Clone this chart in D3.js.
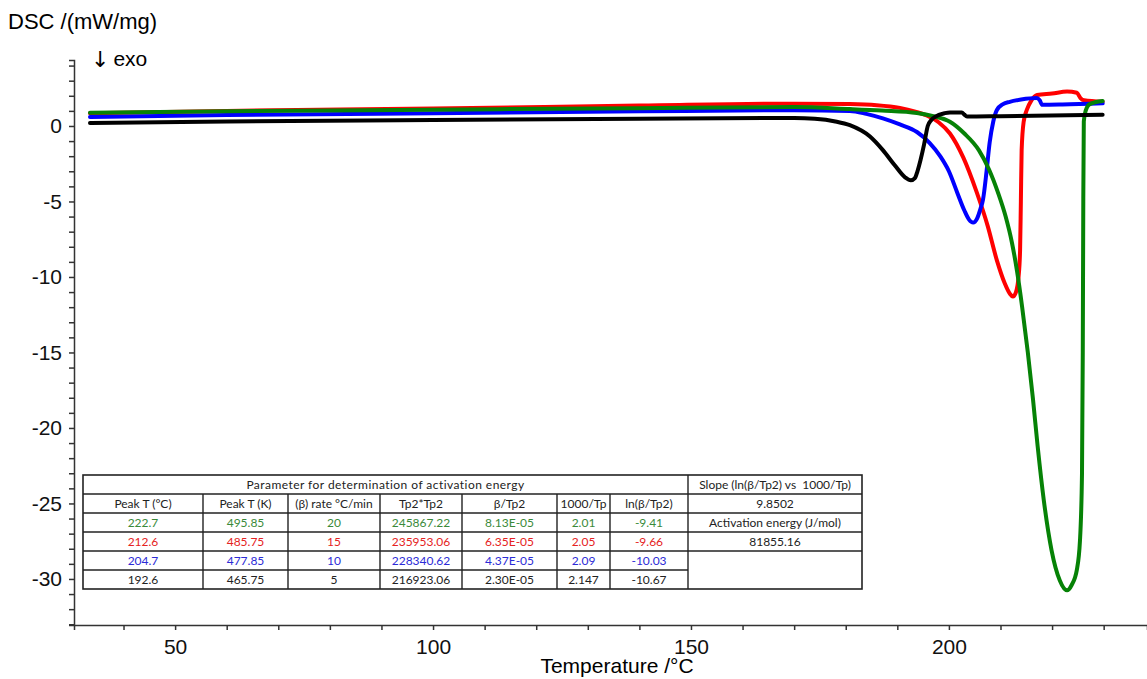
<!DOCTYPE html>
<html>
<head>
<meta charset="utf-8">
<script src="https://cdn.jsdelivr.net/npm/d3@7"></script>
<style>
  body { margin: 0; background: #fff; }
  svg { display: block; font-family: "Liberation Sans", Arial, sans-serif; }
  .axis path, .axis line { stroke: #333; stroke-width: 1.5; }
  .axis text { fill: #111; font-size: 21px; }
  .tbl text { font-family: Lato, "Open Sans", sans-serif; font-size: 12px; white-space: pre; }
</style>
</head>
<body>
<svg id="chart"></svg>
<script>
// DSC curves, [temperature °C, heat flow mW/mg]
const green = [[33.5,0.88],[60,0.98],[100,1.08],[140,1.18],[170,1.25],[180.8,1.12],[187,1.02],[193.8,0.86],
  [197,0.65],[200.2,0.28],[203,-0.5],[205.8,-1.6],[207.8,-2.9],[209.5,-4.4],[211,-6],[212.2,-7.7],[213.2,-9.6],
  [214.2,-12],[215.3,-15],[216.3,-18.1],[217.2,-21.2],[218.4,-24.8],[219.9,-28.1],[221.5,-30.1],
  [222.9,-30.75],[223.8,-30.4],[224.8,-29.4],[225.4,-27.5],[225.8,-23],[225.95,-15],[226.05,-5],
  [226.15,0.3],[226.5,1.0],[227.3,1.45],[229.8,1.65]];
const red = [[33.5,0.85],[60,1.0],[100,1.15],[140,1.35],[170,1.48],[180.8,1.45],[186,1.38],[190.5,1.2],
  [193.5,0.95],[195.7,0.7],[198,0.25],[200.2,-0.5],[202.8,-2.1],[205.4,-4.4],[207.5,-6.6],[209.3,-8.9],
  [210.8,-10.4],[211.8,-11.1],[212.4,-11.3],[213,-11],[213.5,-10],[213.8,-8.2],[213.95,-5],[214.1,-1.6],
  [214.5,0.3],[215.1,1.06],[216,1.7],[217.1,2.05],[220,2.15],[222.9,2.28],[224.8,2.2],[225.5,1.85],[226.2,1.7],
  [229.8,1.6]];
const blue = [[33.5,0.6],[60,0.72],[100,0.85],[140,0.97],[170,1.05],[180.8,1.0],[184,0.8],[187.2,0.5],
  [190.5,0.1],[193.8,-0.4],[196.2,-1.1],[198.3,-2],[200,-3],[201.6,-4.4],[203,-5.6],[203.9,-6.2],[204.7,-6.4],
  [205.5,-6.1],[206.1,-5.5],[206.6,-4.9],[207.3,-3],[207.9,-1.1],[208.6,0.3],[209.3,1.06],[210.5,1.45],
  [211.8,1.6],[214,1.75],[217,1.85],[217.6,1.7],[218.1,1.4],[222,1.42],[229.8,1.5]];
const black = [[33.5,0.2],[60,0.3],[100,0.4],[140,0.48],[170,0.53],[174,0.48],[178,0.3],[180.8,0.05],
  [184.7,-0.7],[187.2,-1.6],[189.5,-2.6],[191.5,-3.4],[192.6,-3.6],[193.4,-3.45],[193.9,-3.0],[194.5,-2.25],
  [195.2,-1.2],[195.9,0],[196.6,0.4],[197.3,0.6],[199.2,0.85],[200.2,0.9],[202.5,0.9],[203,0.75],[203.5,0.62],
  [210,0.65],[229.8,0.75]];

const series = [
  {name: "15 K/min", values: red, color: "#ff0000"},
  {name: "10 K/min", values: blue, color: "#0000ff"},
  {name: "20 K/min", values: green, color: "#068206"},
  {name: "5 K/min", values: black, color: "#000000"},
];

const xTicks = [50, 100, 150, 200];
const yTicks = [0, -5, -10, -15, -20, -25, -30];

// table text
const tableTitle = "Parameter for determination of activation energy";
const tableHeader = ["Peak T (°C)", "Peak T (K)", "(β) rate °C/min", "Tp2*Tp2", "β/Tp2", "1000/Tp", "ln(β/Tp2)"];
const tableRows = [
  ["222.7", "495.85", "20", "245867.22", "8.13E-05", "2.01", "-9.41"],
  ["212.6", "485.75", "15", "235953.06", "6.35E-05", "2.05", "-9.66"],
  ["204.7", "477.85", "10", "228340.62", "4.37E-05", "2.09", "-10.03"],
  ["192.6", "465.75", "5", "216923.06", "2.30E-05", "2.147", "-10.67"],
];
const rowColors = ["#3a8a3a", "#e52222", "#2b2bd6", "#222"];
const sideCells = ["Slope (ln(β/Tp2) vs  1000/Tp)", "9.8502", "Activation energy (J/mol)", "81855.16"];

const width = 1147, height = 679;
const margin = {top: 60, right: 0, bottom: 54, left: 74};

const svg = d3.select("#chart").attr("width", width).attr("height", height);

const x = d3.scaleLinear().domain([30.4, 238.4]).range([margin.left, width - margin.right]);
const y = d3.scaleLinear().domain([-33.05, 4.37]).range([height - margin.bottom, margin.top]);

// axes: minor ticks every 10 °C / 1 mW/mg, labels on the majors
svg.append("g")
  .classed("axis", true)
  .attr("transform", `translate(0,${height - margin.bottom})`)
  .call(d3.axisBottom(x)
    .tickValues(d3.range(40, 231, 10))
    .tickSizeOuter(0).tickSize(5).tickPadding(9)
    .tickFormat(d => xTicks.includes(d) ? String(d) : ""));

svg.append("g")
  .classed("axis", true)
  .attr("transform", `translate(${margin.left},0)`)
  .call(d3.axisLeft(y)
    .tickValues(d3.range(-33, 5, 1))
    .tickSizeOuter(0).tickSize(5).tickPadding(7)
    .tickFormat(d => yTicks.includes(d) ? String(d) : ""));

svg.append("text")
  .attr("x", 8).attr("y", 29)
  .attr("font-size", 22)
  .text("DSC /(mW/mg)");

const exo = svg.append("text")
  .attr("x", 91).attr("y", 66)
  .attr("font-size", 21);
exo.append("tspan")
  .attr("font-family", "DejaVu Sans")
  .attr("font-size", 22)
  .attr("dy", 1)
  .text("↓");
exo.append("tspan").attr("dx", 4).attr("dy", -1).text("exo");

svg.append("text")
  .attr("x", 617).attr("y", 673)
  .attr("text-anchor", "middle")
  .attr("font-size", 21)
  .text("Temperature /°C");

// curves
const line = d3.line()
  .x(d => x(d[0]))
  .y(d => y(d[1]))
  .curve(d3.curveMonotoneX);

svg.append("g").selectAll("path")
  .data(series)
  .join("path")
  .attr("fill", "none")
  .attr("stroke", d => d.color)
  .attr("stroke-width", 4)
  .attr("stroke-linejoin", "round")
  .attr("stroke-linecap", "round")
  .attr("d", d => line(d.values));

// parameter table
const colEdges = [83, 203, 288, 380, 462, 557, 610, 688, 862];
const rowEdges = [475, 494, 513, 532, 551, 570, 589];
const rule = "#222";

const tbl = svg.append("g").classed("tbl", true);

tbl.append("rect")
  .attr("x", colEdges[0]).attr("y", rowEdges[0])
  .attr("width", colEdges[8] - colEdges[0]).attr("height", rowEdges[6] - rowEdges[0])
  .attr("fill", "#fff").attr("stroke", rule).attr("stroke-width", 1.6);

// horizontal rules
tbl.selectAll("line.h")
  .data(rowEdges.slice(1, 5))
  .join("line").classed("h", true)
  .attr("x1", colEdges[0]).attr("x2", colEdges[8])
  .attr("y1", d => d).attr("y2", d => d)
  .attr("stroke", rule).attr("stroke-width", 1.4);
tbl.append("line")
  .attr("x1", colEdges[0]).attr("x2", colEdges[7])
  .attr("y1", rowEdges[5]).attr("y2", rowEdges[5])
  .attr("stroke", rule).attr("stroke-width", 1.4);

// vertical rules (below the title row, except the side column divider)
tbl.selectAll("line.v")
  .data(colEdges.slice(1, 7))
  .join("line").classed("v", true)
  .attr("x1", d => d).attr("x2", d => d)
  .attr("y1", rowEdges[1]).attr("y2", rowEdges[6])
  .attr("stroke", rule).attr("stroke-width", 1.4);
tbl.append("line")
  .attr("x1", colEdges[7]).attr("x2", colEdges[7])
  .attr("y1", rowEdges[0]).attr("y2", rowEdges[6])
  .attr("stroke", rule).attr("stroke-width", 1.4);

const cellText = (cx, row, txt, color) => tbl.append("text")
  .attr("x", cx)
  .attr("y", (rowEdges[row] + rowEdges[row + 1]) / 2)
  .attr("dy", "0.36em")
  .attr("text-anchor", "middle")
  .attr("fill", color)
  .text(txt);

cellText((colEdges[0] + colEdges[7]) / 2, 0, tableTitle, "#222")
  .attr("font-size", 13.5)
  .attr("letter-spacing", 0.45);
tableHeader.forEach((h, i) => cellText((colEdges[i] + colEdges[i + 1]) / 2, 1, h, "#222"));
tableRows.forEach((r, j) => r.forEach((v, i) =>
  cellText((colEdges[i] + colEdges[i + 1]) / 2, j + 2, v, rowColors[j])));
sideCells.forEach((s, j) => cellText((colEdges[7] + colEdges[8]) / 2, j, s, "#222"));
</script>
</body>
</html>
